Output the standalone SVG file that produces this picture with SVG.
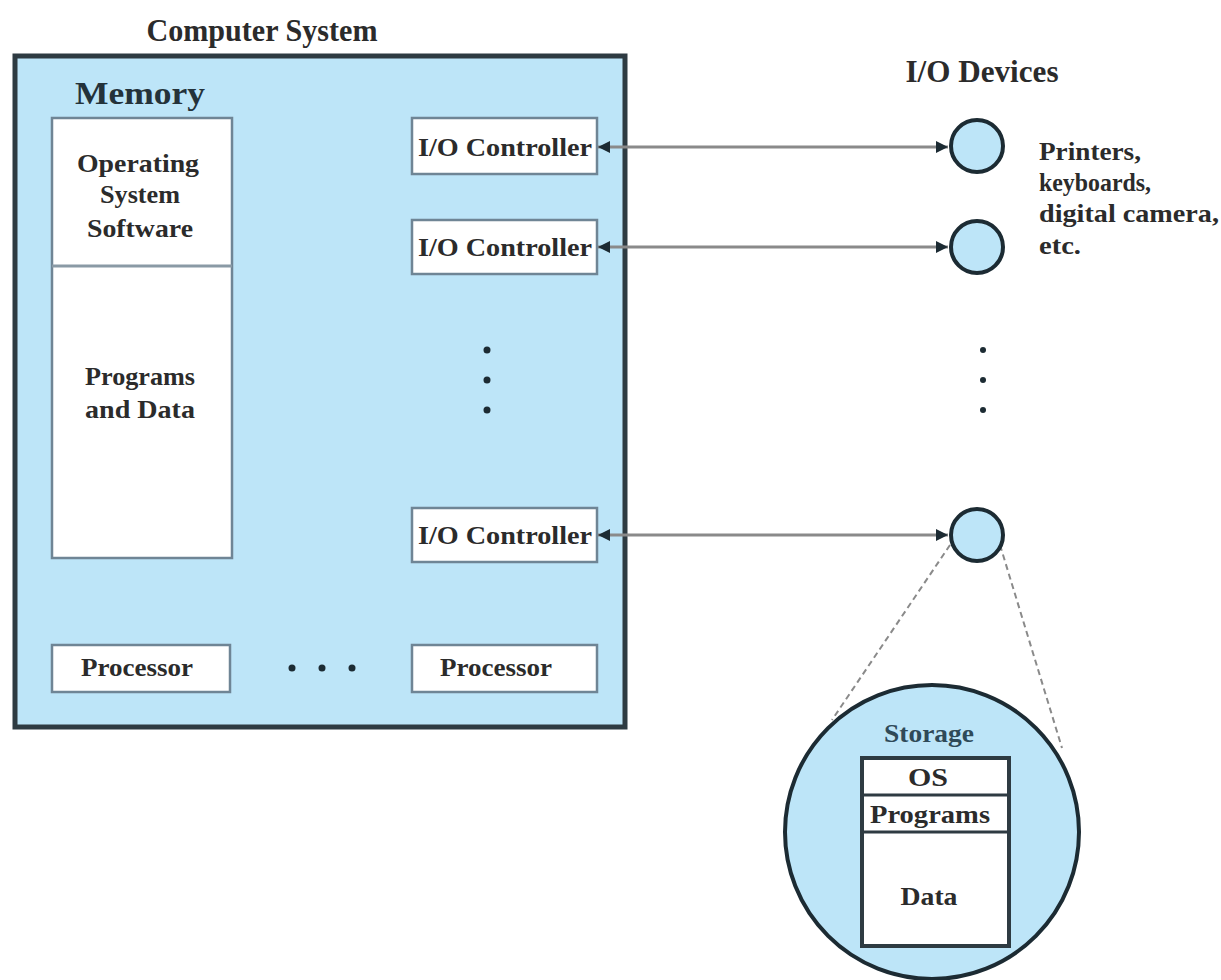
<svg xmlns="http://www.w3.org/2000/svg" width="1221" height="980" viewBox="0 0 1221 980">
<style>
text { font-family: "Liberation Serif", "Times New Roman", serif; fill: #2b2b2b; font-weight: bold; }
.title { font-size: 31px; }
.lbl { font-size: 26px; }
.note { font-size: 25px; }
.box { fill: #ffffff; stroke: #6f8595; stroke-width: 2.5; }
.dev { fill: #bde5f8; stroke: #1c2b33; stroke-width: 4; }
.conn { stroke: #8a8a8a; stroke-width: 3; fill: none; }
.dash { stroke: #8a8a8a; stroke-width: 2; stroke-dasharray: 6 4; fill: none; }
.dot { fill: #1c2b33; }
</style>
<defs>
<marker id="ah" viewBox="0 0 10 10" refX="10" refY="5" markerWidth="4" markerHeight="4" orient="auto-start-reverse" markerUnits="strokeWidth">
<path d="M0,0 L10,5 L0,10 z" fill="#1c2b33"/>
</marker>
</defs>
<rect width="1221" height="980" fill="#ffffff"/>

<text class="title" x="262" y="41" text-anchor="middle" textLength="231" lengthAdjust="spacingAndGlyphs">Computer System</text>
<text class="title" x="982" y="82" text-anchor="middle" font-size="29" textLength="153" lengthAdjust="spacingAndGlyphs">I/O Devices</text>

<g id="computer-system">
<rect x="15" y="56" width="610" height="671" fill="#bde5f8" stroke="#2e3b42" stroke-width="5"/>
<text class="title" x="140" y="104" text-anchor="middle" font-size="30" textLength="130" lengthAdjust="spacingAndGlyphs" style="fill:#24323a">Memory</text>
</g>

<g id="memory">
<rect class="box" x="52" y="118" width="180" height="440"/>
<line x1="52" y1="266" x2="232" y2="266" stroke="#8a9aa5" stroke-width="3"/>
<text class="lbl" x="138" y="172" text-anchor="middle" textLength="122" lengthAdjust="spacingAndGlyphs">Operating</text>
<text class="lbl" x="140" y="203" text-anchor="middle" textLength="80" lengthAdjust="spacingAndGlyphs">System</text>
<text class="lbl" x="140" y="237" text-anchor="middle" textLength="106" lengthAdjust="spacingAndGlyphs">Software</text>
<text class="lbl" x="140" y="385" text-anchor="middle" textLength="110" lengthAdjust="spacingAndGlyphs">Programs</text>
<text class="lbl" x="140" y="418" text-anchor="middle" textLength="110" lengthAdjust="spacingAndGlyphs">and Data</text>
</g>

<g id="io-controller-1">
<rect class="box" x="412" y="118" width="185" height="56"/>
<text class="lbl" x="505" y="156" text-anchor="middle" textLength="174" lengthAdjust="spacingAndGlyphs">I/O Controller</text>
</g>
<g id="io-controller-2">
<rect class="box" x="412" y="220" width="185" height="54"/>
<text class="lbl" x="505" y="256" text-anchor="middle" textLength="174" lengthAdjust="spacingAndGlyphs">I/O Controller</text>
</g>
<g id="io-controller-3">
<rect class="box" x="412" y="508" width="185" height="54"/>
<text class="lbl" x="505" y="544" text-anchor="middle" textLength="174" lengthAdjust="spacingAndGlyphs">I/O Controller</text>
</g>

<g id="controller-ellipsis">
<circle class="dot" cx="487" cy="350" r="3.5"/>
<circle class="dot" cx="487" cy="380" r="3.5"/>
<circle class="dot" cx="487" cy="410" r="3.5"/>
</g>

<g id="processor-1">
<rect class="box" x="52" y="645" width="178" height="47"/>
<text class="lbl" x="137" y="676" text-anchor="middle" textLength="112" lengthAdjust="spacingAndGlyphs">Processor</text>
</g>
<g id="processor-2">
<rect class="box" x="412" y="645" width="185" height="47"/>
<text class="lbl" x="496" y="676" text-anchor="middle" textLength="112" lengthAdjust="spacingAndGlyphs">Processor</text>
</g>
<g id="processor-ellipsis">
<circle class="dot" cx="292" cy="668" r="3.5"/>
<circle class="dot" cx="322" cy="668" r="3.5"/>
<circle class="dot" cx="352" cy="668" r="3.5"/>
</g>

<g id="connectors">
<line class="conn" x1="598" y1="147" x2="948" y2="147" marker-start="url(#ah)" marker-end="url(#ah)"/>
<line class="conn" x1="598" y1="247" x2="948" y2="247" marker-start="url(#ah)" marker-end="url(#ah)"/>
<line class="conn" x1="598" y1="535" x2="948" y2="535" marker-start="url(#ah)" marker-end="url(#ah)"/>
<line class="dash" x1="950" y1="545" x2="832" y2="720"/>
<line class="dash" x1="1000" y1="545" x2="1062" y2="748"/>
</g>

<g id="device-1">
<circle class="dev" cx="977" cy="146" r="26"/>
</g>
<g id="device-2">
<circle class="dev" cx="977" cy="247" r="26"/>
</g>
<g id="device-3">
<circle class="dev" cx="977" cy="535" r="26"/>
</g>

<g id="device-ellipsis">
<circle class="dot" cx="983" cy="350" r="3"/>
<circle class="dot" cx="983" cy="380" r="3"/>
<circle class="dot" cx="983" cy="410" r="3"/>
</g>

<g id="device-note">
<text class="note" x="1039" y="160" textLength="102" lengthAdjust="spacingAndGlyphs">Printers,</text>
<text class="note" x="1039" y="191" textLength="112" lengthAdjust="spacingAndGlyphs">keyboards,</text>
<text class="note" x="1039" y="222" textLength="180" lengthAdjust="spacingAndGlyphs">digital camera,</text>
<text class="note" x="1039" y="254" textLength="42" lengthAdjust="spacingAndGlyphs">etc.</text>
</g>

<g id="storage">
<circle class="dev" cx="932" cy="832" r="147"/>
<text class="note" x="929" y="742" text-anchor="middle" textLength="90" lengthAdjust="spacingAndGlyphs" style="fill:#2f4a58">Storage</text>
<rect x="862" y="758" width="147" height="188" fill="#ffffff" stroke="#2e3b42" stroke-width="4"/>
<line x1="862" y1="795" x2="1009" y2="795" stroke="#2e3b42" stroke-width="3"/>
<line x1="862" y1="832" x2="1009" y2="832" stroke="#2e3b42" stroke-width="3"/>
<text class="note" x="928" y="786" text-anchor="middle" textLength="40" lengthAdjust="spacingAndGlyphs">OS</text>
<text class="note" x="930" y="823" text-anchor="middle" textLength="120" lengthAdjust="spacingAndGlyphs">Programs</text>
<text class="note" x="929" y="905" text-anchor="middle" textLength="57" lengthAdjust="spacingAndGlyphs">Data</text>
</g>
</svg>
